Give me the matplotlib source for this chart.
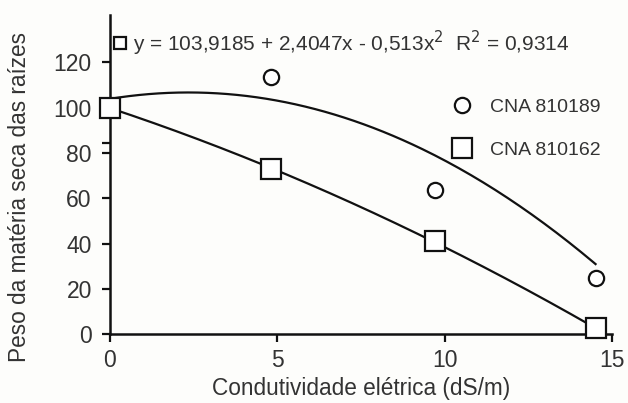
import numpy as np
import matplotlib
matplotlib.use("Agg")
import matplotlib.pyplot as plt
from matplotlib.lines import Line2D

plt.rcParams['font.family'] = ['Liberation Sans', 'DejaVu Sans']

# Data
ec = [0, 4.8, 9.7, 14.5]
cna_810189 = [100, 113.5, 63.5, 24.7]
cna_810162 = [100, 73, 41, 2.5]
eq_coefs = [103.9185, 2.4047, -0.513]  # quadratic fit for CNA 810189 (given on chart)
xticks = [0, 5, 10, 15]
yticks = [0, 20, 40, 60, 80, 100, 120]
eq_text = "y = 103,9185 + 2,4047x - 0,513x$^2$  R$^2$ = 0,9314"

ink = '#111111'
txt = '#333333'

fig = plt.figure(figsize=(6.28, 4.03), dpi=100)
fig.patch.set_facecolor('#fdfdfb')
ax = fig.add_axes([0.175, 0.171, 0.800, 0.792])
ax.set_facecolor('#fdfdfb')

# trend lines
xs = np.linspace(0, ec[-1], 200)
y1 = eq_coefs[0] + eq_coefs[1] * xs + eq_coefs[2] * xs ** 2
ax.plot(xs, y1, color=ink, lw=1.6, zorder=2)
p2 = np.polyfit(ec, cna_810162, 2)
ax.plot(xs, np.polyval(p2, xs), color=ink, lw=1.6, zorder=2)

ax.plot(ec, cna_810189, 'o', ms=11, mfc='white', mec=ink, mew=1.6, ls='none', zorder=3, clip_on=False)
ax.plot(ec, cna_810162, 's', ms=14.5, mfc='white', mec=ink, mew=1.6, ls='none', zorder=4, clip_on=False)

ax.set_xlim(0, 15)
ax.set_ylim(0, 141)
ax.set_xticks(xticks)
ax.set_yticks(yticks)
ax.set_yticks([84.3], minor=True)
ax.tick_params(axis='y', which='minor', length=6, width=1.6, color=ink)
ax.tick_params(axis='both', which='major', direction='out', length=6, width=1.6,
               color=ink, labelsize=16.5, labelcolor=txt)
ax.tick_params(axis='y', pad=7)
ax.tick_params(axis='x', pad=5)
for s in ['top', 'right']:
    ax.spines[s].set_visible(False)
for s in ['left', 'bottom']:
    ax.spines[s].set_linewidth(1.8)
    ax.spines[s].set_color(ink)

ax.set_xlabel('Condutividade elétrica (dS/m)', fontsize=16.3, color=txt, labelpad=3)
ax.set_ylabel('Peso da matéria seca das raízes', fontsize=16.3, color=txt)
ax.yaxis.set_label_coords(-0.158, 0.43)

# equation annotation
ax.plot([0.3], [128.5], 's', ms=8, mfc='white', mec=ink, mew=1.6, clip_on=False, zorder=5)
ax.text(0.68, 128.5, eq_text, fontsize=15, color=txt, va='center', ha='left')

handles = [Line2D([], [], marker='o', ls='none', ms=11, mfc='white', mec=ink, mew=1.6),
           Line2D([], [], marker='s', ls='none', ms=14, mfc='white', mec=ink, mew=1.6)]
leg = ax.legend(handles, ['CNA 810189', 'CNA 810162'], loc='upper left',
                bbox_to_anchor=(0.642, 0.768), frameon=False, fontsize=14,
                labelcolor=txt, handletextpad=0.45, labelspacing=1.27, borderpad=0)

fig.savefig('out.png', dpi=100, facecolor=fig.get_facecolor())
